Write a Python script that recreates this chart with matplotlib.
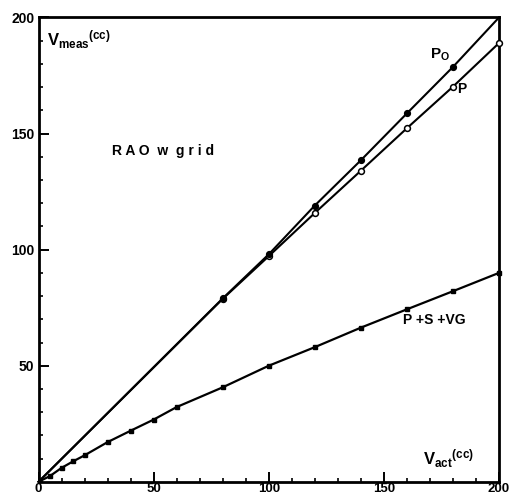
import matplotlib
matplotlib.use("Agg")
import matplotlib.pyplot as plt
from matplotlib.ticker import MultipleLocator, FixedLocator

plt.rcParams['font.family'] = ['Liberation Sans', 'DejaVu Sans']

# Measured vs. actual volume (cc), RAO view with grid
x_p0 = [0, 80, 100, 120, 140, 160, 180, 200]
y_p0 = [0, 79, 98, 119, 138.5, 158.7, 178.7, 200]

x_p = [0, 80, 100, 120, 140, 160, 180, 200]
y_p = [0, 78.8, 97.2, 115.8, 134, 152.3, 170.2, 189]

x_psvg = [0, 5, 10, 15, 20, 30, 40, 50, 60, 80, 100, 120, 140, 160, 180, 200]
y_psvg = [0, 2.5, 6, 8.8, 11.4, 17.1, 22, 26.8, 32.2, 40.7, 50, 58, 66.4, 74.3, 82.1, 90]

x_major = [0, 50, 100, 150, 200]
y_major = [50, 100, 150, 200]

fig = plt.figure(figsize=(5.17, 4.98), dpi=100)
ax = fig.add_axes([0.0745, 0.0325, 0.8907, 0.9324])

ax.plot(x_p, y_p, color='black', lw=1.5, marker='o', ms=4.2,
        mfc='white', mec='black', mew=1.1, markevery=list(range(1, len(x_p))),
        clip_on=False, zorder=3)
ax.plot(x_p0, y_p0, color='black', lw=1.5, marker='o', ms=4.2,
        mfc='black', mec='black', markevery=list(range(1, len(x_p0) - 1)),
        clip_on=True, zorder=4)
ax.plot(x_psvg, y_psvg, color='black', lw=1.6, marker='s', ms=3.2,
        mfc='black', mec='black', markevery=list(range(1, len(x_psvg))),
        clip_on=False, zorder=3)

ax.set_xlim(0, 200)
ax.set_ylim(0, 200)

for s in ax.spines.values():
    s.set_linewidth(2.0)

ax.xaxis.set_major_locator(FixedLocator(x_major))
ax.yaxis.set_major_locator(FixedLocator(y_major))
ax.xaxis.set_minor_locator(MultipleLocator(10))
ax.yaxis.set_minor_locator(MultipleLocator(10))
ax.tick_params(which='major', direction='in', length=7, width=1.4,
               labelsize=10, pad=3, top=False, right=False)
ax.tick_params(axis='x', which='major', labelsize=9.5, pad=1)
ax.tick_params(which='minor', direction='in', length=3, width=1.2,
               top=False, right=False)
for lab in ax.get_xticklabels() + ax.get_yticklabels():
    lab.set_fontweight('bold')

txt = dict(color='black', fontsize=10, fontweight='bold')
ax.text(3.8, 188, r'$\mathregular{V_{meas}{}^{(cc)}}$', fontsize=12,
        fontweight='bold', color='black')
ax.text(167, 7.5, r'$\mathregular{V_{act}{}^{(cc)}}$', fontsize=12,
        fontweight='bold', color='black')
ax.text(32, 140.7, 'R A O  w  g r i d', **txt)
ax.text(170, 182.5, r'$\mathregular{P_{O}}$', fontsize=11, fontweight='bold',
        color='black')
ax.text(182, 167.3, 'P', **txt)
ax.text(158.4, 67.9, 'P +S +VG', **txt)

fig.savefig('out.png', dpi=100)
